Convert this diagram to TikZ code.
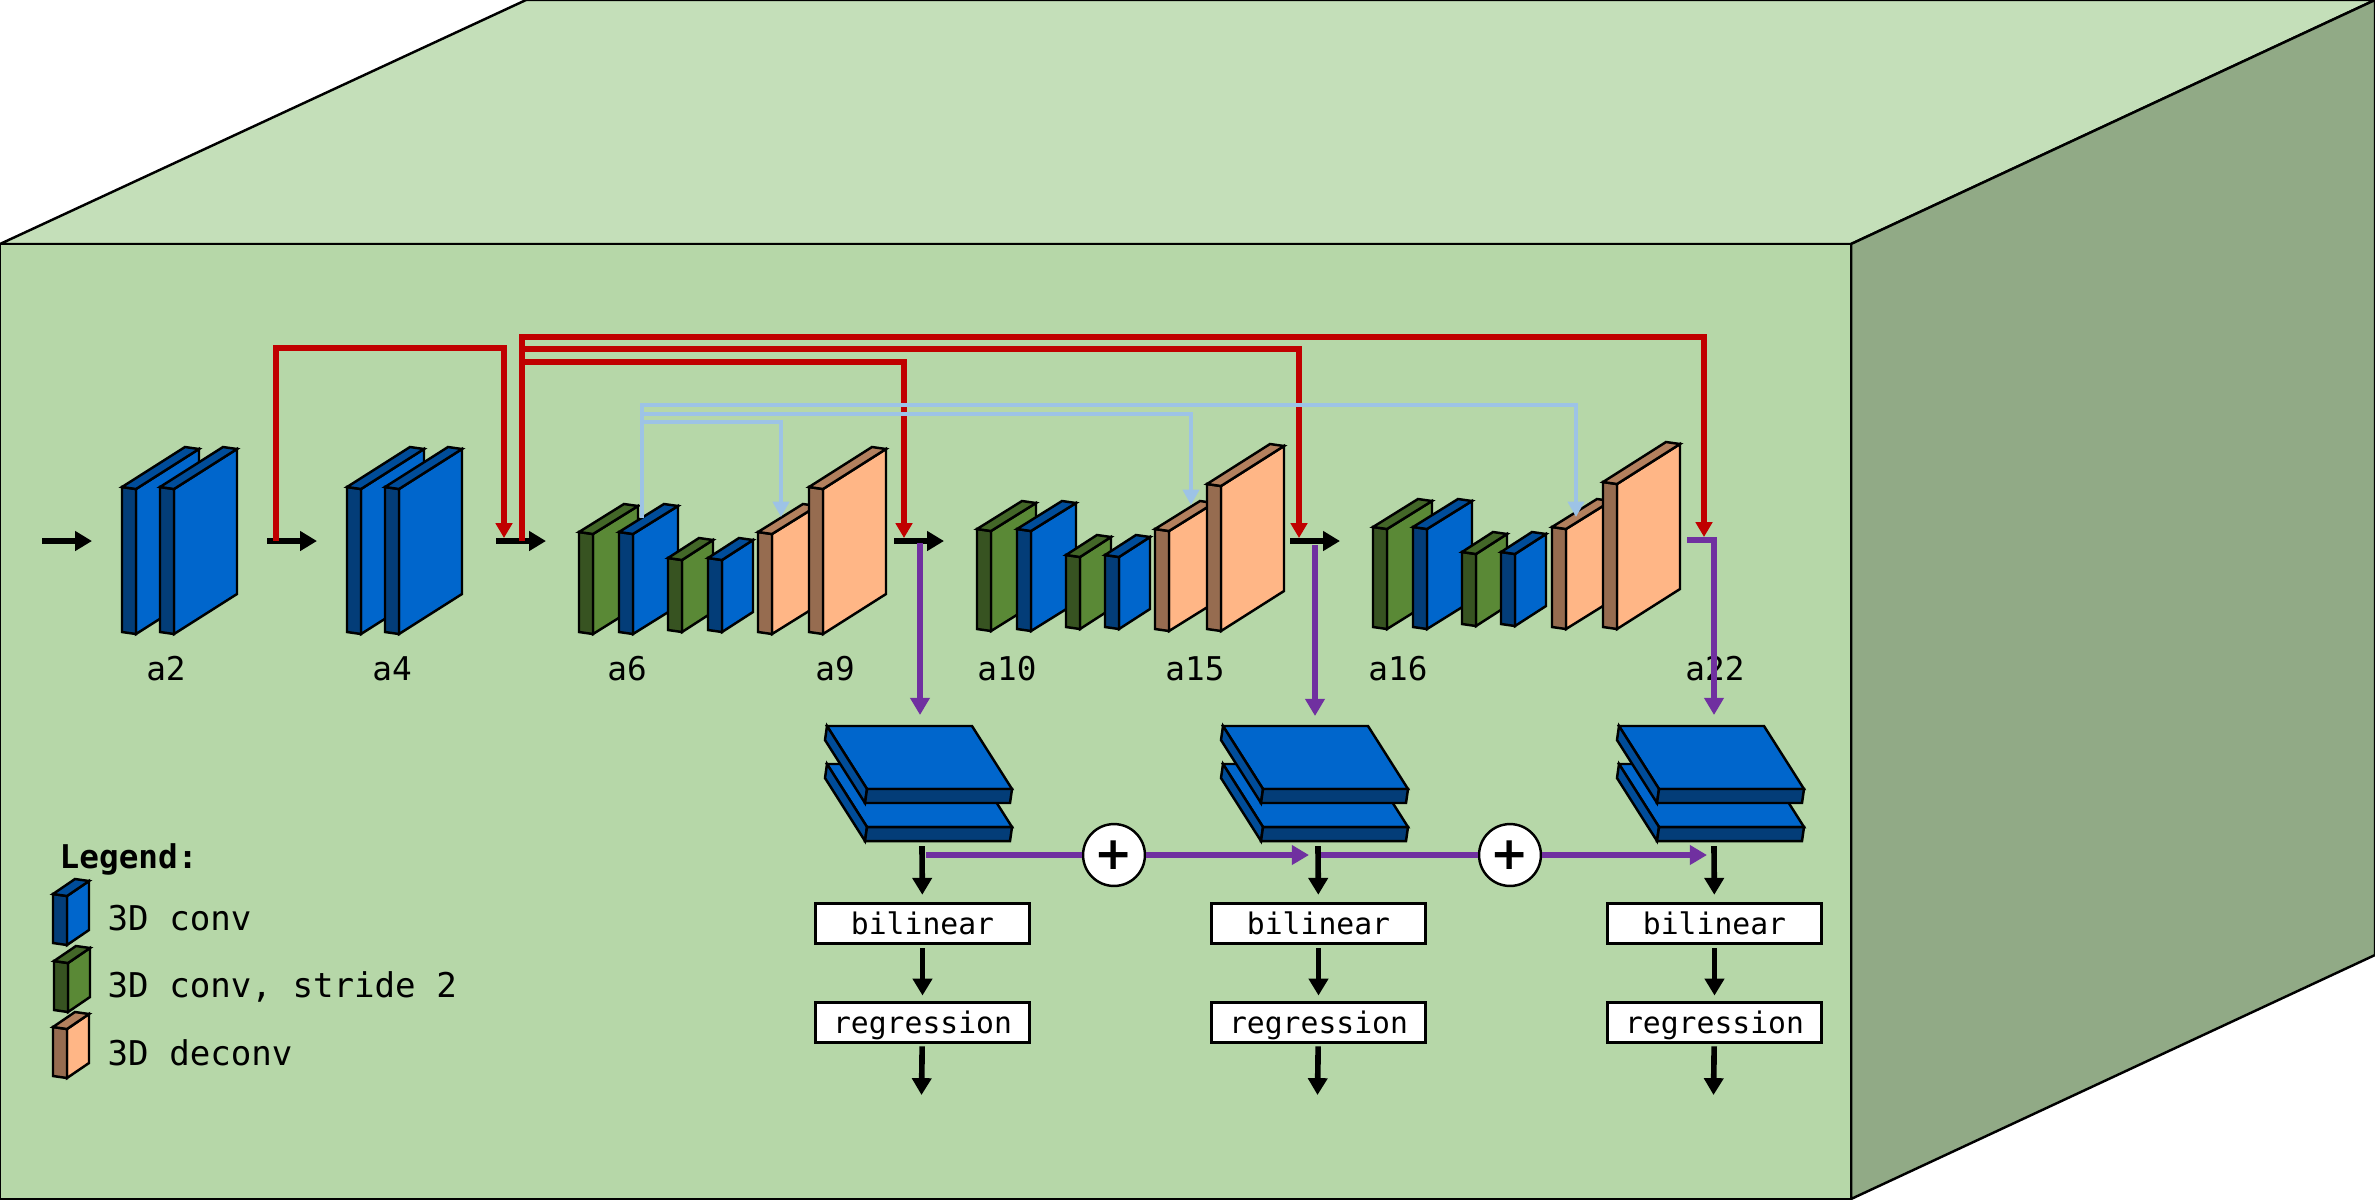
\documentclass[tikz,border=0pt]{standalone}
\usepackage{fontspec}
\setmonofont{DejaVu Sans Mono}
\setsansfont{DejaVu Sans}
\usetikzlibrary{arrows.meta}
\definecolor{convfront}{HTML}{0066CC}
\definecolor{convside}{HTML}{033D78}
\definecolor{convtop}{HTML}{004C99}
\definecolor{stridefront}{HTML}{5A8936}
\definecolor{strideside}{HTML}{375321}
\definecolor{stridetop}{HTML}{436728}
\definecolor{deconvfront}{HTML}{FFB686}
\definecolor{deconvside}{HTML}{966C50}
\definecolor{deconvtop}{HTML}{B3805E}
\definecolor{roomfront}{HTML}{B6D7A8}
\definecolor{roomtop}{HTML}{C4DFB9}
\definecolor{roomside}{HTML}{91AA86}
\definecolor{skipred}{HTML}{C00000}
\definecolor{skipblue}{HTML}{9DC3E6}
\definecolor{outpurple}{HTML}{7030A0}
\tikzset{
  blackarrow/.style={line width=1.6pt, black, -{Triangle[length=4.8pt,width=5.4pt]}},
  redarrow/.style={line width=1.45pt, skipred, -{Triangle[length=4.2pt,width=4.6pt]}},
  bluearrow/.style={line width=1.3pt, skipblue, -{Triangle[length=4.4pt,width=4.6pt]}},
  purplearrow/.style={line width=1.55pt, outpurple, -{Triangle[length=4.9pt,width=5.4pt]}},
  purpleline/.style={line width=1.55pt, outpurple},
  netlabel/.style={font=\ttfamily\fontsize{9.3}{11}\selectfont, anchor=base},
  legendlabel/.style={font=\ttfamily\fontsize{9.7}{11}\selectfont, anchor=base west, inner sep=0pt},
  headbox/.style={draw, line width=0.85pt, fill=white, inner sep=0pt, minimum width=60.6pt, minimum height=11.5pt,
    text height=7.5pt, text depth=1.3pt, font=\ttfamily\fontsize{8.45}{10}\selectfont},
  plusnode/.style={draw, line width=0.7pt, fill=white, circle, inner sep=0pt, minimum size=17.6pt,
    font=\sffamily\bfseries\fontsize{13}{13}\selectfont},
}
% type, x, y, height, dx, dy
\newcommand{\plate}[6]{
  \draw[line width=0.7pt, fill=#1front] (#2+14,#3+2) -- ++(#5,-#6) -- ++(0,#4) -- ++(-#5,#6) -- cycle;
  \draw[line width=0.7pt, fill=#1side] (#2,#3) -- ++(14,2) -- ++(0,#4) -- ++(-14,-2) -- cycle;
  \draw[line width=0.7pt, fill=#1top] (#2,#3) -- ++(#5,-#6) -- ++(14,2) -- ++(-#5,#6) -- cycle;
}
% x, y
\newcommand{\slab}[2]{
  \draw[line width=0.7pt, fill=convfront] (#1,#2) -- ++(145,0) -- ++(40,63) -- ++(-145,0) -- cycle;
  \draw[line width=0.7pt, fill=convtop] (#1,#2) -- ++(-2,14) -- ++(40,63) -- ++(2,-14) -- cycle;
  \draw[line width=0.7pt, fill=convside] (#1+40,#2+63) -- ++(145,0) -- ++(-2,14) -- ++(-145,0) -- cycle;
}
\begin{document}
\begin{tikzpicture}[x=0.01cm, y=-0.01cm]
  \useasboundingbox (0,0) rectangle (2375,1199);
  % room
  \draw[line width=0.7pt, fill=roomtop] (0,244) -- (526,0) -- (2375,0) -- (1851,244) -- cycle;
  \draw[line width=0.7pt, fill=roomside] (1851,244) -- (2375,0) -- (2375,955) -- (1851,1199) -- cycle;
  \draw[line width=0.7pt, fill=roomfront] (0,244) rectangle (1851,1199);
  % a2, a4
  \foreach \x in {122, 160, 347, 385} {
    \plate{conv}{\x}{487}{145}{63}{40}
  }
  % a6 .. a9
  \plate{stride}{579}{532}{100}{45}{28}
  \plate{conv}{619}{532}{100}{45}{28}
  \plate{stride}{668}{558}{72}{31}{20}
  \plate{conv}{708}{558}{72}{31}{20}
  \plate{deconv}{758}{532}{100}{45}{28}
  \plate{deconv}{809}{487}{145}{63}{40}
  % a10 .. a15
  \plate{stride}{977}{529}{100}{45}{28}
  \plate{conv}{1017}{529}{100}{45}{28}
  \plate{stride}{1066}{555}{72}{31}{20}
  \plate{conv}{1105}{555}{72}{31}{20}
  \plate{deconv}{1155}{529}{100}{45}{28}
  \plate{deconv}{1207}{484}{145}{63}{40}
  % a16 .. a22
  \plate{stride}{1373}{527}{100}{45}{28}
  \plate{conv}{1413}{527}{100}{45}{28}
  \plate{stride}{1462}{552}{72}{31}{20}
  \plate{conv}{1501}{552}{72}{31}{20}
  \plate{deconv}{1552}{527}{100}{45}{28}
  \plate{deconv}{1603}{482}{145}{63}{40}
  % labels
  \node[netlabel] (a2) at (166,680.5) {a2};
  \node[netlabel] (a4) at (392,680.5) {a4};
  \node[netlabel] (a6) at (627,680.5) {a6};
  \node[netlabel] (a9) at (835,680.5) {a9};
  \node[netlabel] (a10) at (1007,680.5) {a10};
  \node[netlabel] (a15) at (1195,680.5) {a15};
  \node[netlabel] (a16) at (1398,680.5) {a16};
  \node[netlabel] (a22) at (1715,680.5) {a22};
  % arrows between the blocks
  \coordinate (inA) at (42,541);
  \coordinate (outA) at (92,541);
  \coordinate (inB) at (267,541);
  \coordinate (outB) at (317,541);
  \coordinate (inC) at (496,541);
  \coordinate (outC) at (546,541);
  \coordinate (inD) at (894,541);
  \coordinate (outD) at (944,541);
  \coordinate (inE) at (1290,541);
  \coordinate (outE) at (1340,541);
  \foreach \n in {A,B,C,D,E} {
    \draw[blackarrow] (in\n) -- (out\n);
  }
  % red skips
  \coordinate (redfromA) at (276,541);
  \coordinate (redtoA) at (504,538);
  \coordinate (redfromB) at (522,541);
  \coordinate (redtoB) at (904,538);
  \coordinate (redtoC) at (1299,538);
  \coordinate (redtoD) at (1704,537);
  \draw[redarrow] (redfromA) -- ++(0,-193) -| (redtoA);
  \draw[redarrow] (redfromB) -- ++(0,-179) -| (redtoB);
  \draw[redarrow] (redfromB) -- ++(0,-192) -| (redtoC);
  \draw[redarrow] (redfromB) -- ++(0,-204) -| (redtoD);
  % light blue skips
  \coordinate (bluefrom) at (642,518);
  \coordinate (bluetoA) at (781,517);
  \coordinate (bluetoB) at (1191,505);
  \coordinate (bluetoC) at (1576,517);
  \draw[bluearrow] (bluefrom) -- ++(0,-96) -| (bluetoA);
  \draw[bluearrow] (bluefrom) -- ++(0,-104) -| (bluetoB);
  \draw[bluearrow] (bluefrom) -- ++(0,-113) -| (bluetoC);
  % heads
  \foreach \n/\d in {A/0, B/396, C/792} {
    \slab{827+\d}{764}
    \slab{827+\d}{726}
    \coordinate (stack\n) at (922+\d,846);
    \node[headbox] (bilinear\n) at (922.5+\d,923.5) {bilinear};
    \node[headbox] (regression\n) at (922.5+\d,1022.5) {regression};
    \coordinate (end\n) at (921.5+\d,1095);
    \draw[blackarrow, shorten >=2pt] (stack\n) -- (bilinear\n);
    \draw[blackarrow, shorten <=0.8pt, shorten >=1.5pt] (bilinear\n) -- (regression\n);
    \draw[blackarrow, shorten <=0.6pt] (regression\n) -- (end\n);
  }
  % purple outputs
  \coordinate (purplefromA) at (920,543);
  \coordinate (purpletoA) at (920,715);
  \coordinate (purplefromB) at (1315,545);
  \coordinate (purpletoB) at (1315,716);
  \coordinate (purplefromC) at (1687,540);
  \coordinate (purpletoC) at (1714,715);
  \draw[purplearrow] (purplefromA) -- (purpletoA);
  \draw[purplearrow] (purplefromB) -- (purpletoB);
  \draw[purplearrow] (purplefromC) -| (purpletoC);
  \node[plusnode] (plusA) at (1114,855) {+};
  \node[plusnode] (plusB) at (1510,855) {+};
  \coordinate (sumfromA) at (926,855);
  \coordinate (sumtoA) at (1309,855);
  \coordinate (sumfromB) at (1321,855);
  \coordinate (sumtoB) at (1707,855);
  \draw[purpleline] (sumfromA) -- (plusA);
  \draw[purplearrow] (plusA) -- (sumtoA);
  \draw[purpleline] (sumfromB) -- (plusB);
  \draw[purplearrow] (plusB) -- (sumtoB);
  % legend
  \node[legendlabel, font=\ttfamily\bfseries\fontsize{9.3}{11}\selectfont] (legend) at (59,868) {Legend:};
  \plate{conv}{53}{894}{49}{22}{15}
  \plate{stride}{54}{961}{49}{22}{15}
  \plate{deconv}{53}{1027}{49}{22}{15}
  \node[legendlabel] (legconv) at (107,930) {3D conv};
  \node[legendlabel] (legstride) at (107,997) {3D conv, stride 2};
  \node[legendlabel] (legdeconv) at (107,1065) {3D deconv};
\end{tikzpicture}
\end{document}
